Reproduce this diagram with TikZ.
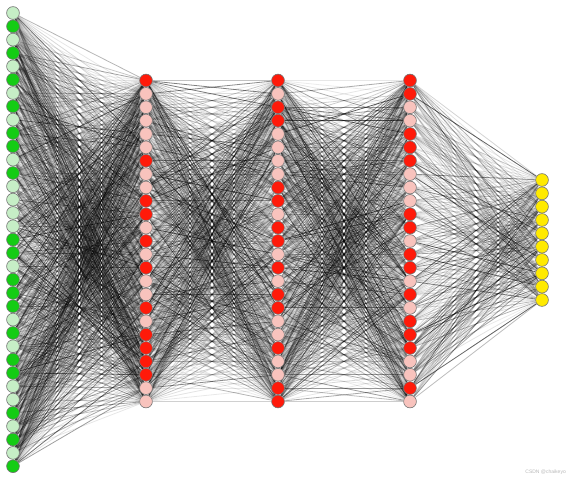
\documentclass[tikz,border=0pt]{standalone}
\usepackage{fontspec}
\setmainfont{Liberation Sans}
\usetikzlibrary{backgrounds}
\definecolor{gD}{HTML}{14CC14}
\definecolor{gL}{HTML}{C6EEC6}
\definecolor{rD}{HTML}{FF1A0A}
\definecolor{rL}{HTML}{F8C3BD}
\definecolor{yY}{HTML}{FFEA00}
\newcommand\synline[2]{%
  \pgfmathsetmacro\keep{rnd}%
  \ifdim\keep pt<0.9pt
    \pgfmathsetmacro\op{0.08+0.62*rnd*rnd}%
    \draw[synapse,draw opacity=\op] (#1) -- (#2);%
  \fi}
\begin{document}
\begin{tikzpicture}[x=1pt,y=-1pt,
  neuron/.style={circle,minimum size=12.8pt,inner sep=0pt,draw=black!55,line width=0.6pt},
  synapse/.style={line width=0.8pt,draw=black}]
\useasboundingbox (0,0) rectangle (570,481);
\pgfmathsetseed{11}
% input layer
\foreach \c [count=\i] in {L,D,L,D,L,D,L,D,L,D,D,L,D,L,L,L,L,D,D,L,D,D,D,L,D,L,D,D,L,L,D,L,D,L,D}
  \node[neuron,fill=g\c] (a\i) at (13,{13+13.33*(\i-1)}) {};
% hidden layers
\foreach \c [count=\i] in {D,L,L,L,L,L,D,L,L,D,D,L,D,L,D,L,L,D,L,D,D,D,D,L,L}
  \node[neuron,fill=r\c] (b\i) at (146,{80.5+13.375*(\i-1)}) {};
\foreach \c [count=\i] in {D,L,D,D,L,L,L,L,D,D,L,D,D,L,D,L,D,D,L,L,D,L,L,D,D}
  \node[neuron,fill=r\c] (c\i) at (278,{80.5+13.375*(\i-1)}) {};
\foreach \c [count=\i] in {D,D,L,L,D,D,D,L,L,L,D,D,L,D,D,L,D,L,D,D,D,L,L,D,L}
  \node[neuron,fill=r\c] (d\i) at (410,{80.5+13.375*(\i-1)}) {};
% output layer
\foreach \i in {1,...,10}
  \node[neuron,fill=yY] (e\i) at (542,{180+13.33*(\i-1)}) {};
% connections
\begin{scope}[on background layer]
\foreach \i in {1,...,35} \foreach \j in {1,...,25} {\synline{a\i}{b\j}}
\foreach \i in {1,...,25} \foreach \j in {1,...,25} {\synline{b\i}{c\j}\synline{c\i}{d\j}}
\foreach \i in {1,...,25} \foreach \j in {1,...,10} {\synline{d\i}{e\j}}
\end{scope}
\node[text=black!28,font=\fontsize{5}{6}\selectfont,anchor=east,inner sep=0pt] (wm) at (566,472) {CSDN @chaikeyo};
\end{tikzpicture}
\end{document}
